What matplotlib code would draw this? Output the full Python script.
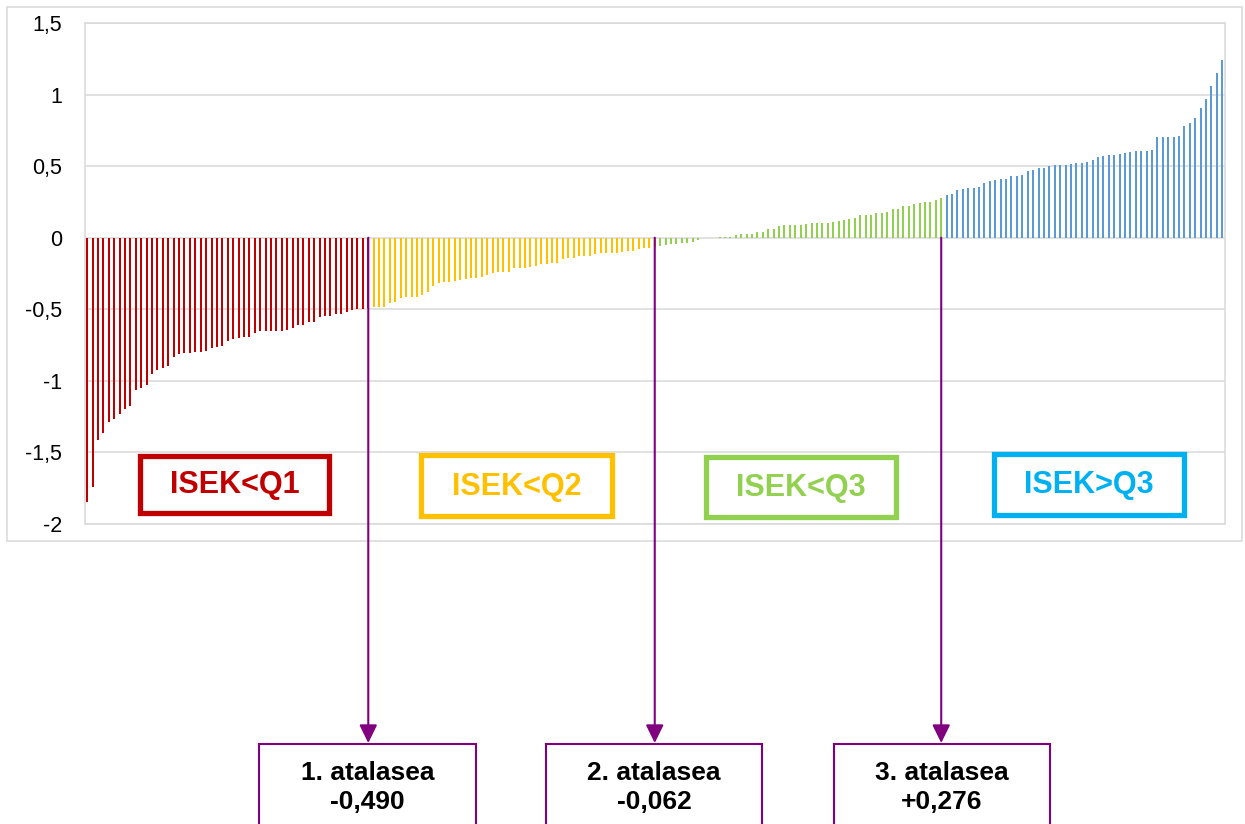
import matplotlib as mpl
mpl.use('Agg')
import matplotlib.pyplot as plt
from matplotlib.patches import Rectangle
import numpy as np

plt.rcParams['font.family'] = ['Liberation Sans', 'DejaVu Sans']

# sorted ISEK values, one list per quartile group
q1_vals = [-1.847, -1.741, -1.412, -1.363, -1.286, -1.265, -1.230, -1.195, -1.173, -1.061,
           -1.047, -1.026, -0.949, -0.921, -0.907, -0.893, -0.830, -0.809, -0.806, -0.802,
           -0.795, -0.795, -0.788, -0.767, -0.760, -0.753, -0.725, -0.706, -0.699, -0.692,
           -0.692, -0.664, -0.650, -0.650, -0.650, -0.650, -0.650, -0.643, -0.629, -0.608,
           -0.608, -0.587, -0.587, -0.552, -0.545, -0.545, -0.531, -0.531, -0.517, -0.503,
           -0.496, -0.496]
q2_vals = [-0.486, -0.486, -0.486, -0.458, -0.451, -0.423, -0.416, -0.416, -0.411, -0.402,
           -0.381, -0.339, -0.318, -0.311, -0.311, -0.304, -0.297, -0.290, -0.283, -0.283,
           -0.276, -0.262, -0.248, -0.241, -0.241, -0.241, -0.213, -0.213, -0.213, -0.206,
           -0.199, -0.185, -0.185, -0.178, -0.178, -0.150, -0.143, -0.143, -0.129, -0.129,
           -0.129, -0.115, -0.108, -0.108, -0.108, -0.108, -0.101, -0.094, -0.094, -0.079,
           -0.072, -0.072]
q3_vals = [-0.058, -0.054, -0.047, -0.047, -0.040, -0.037, -0.033, -0.019, -0.005, -0.005,
           -0.005, 0.007, 0.007, 0.007, 0.016, 0.028, 0.028, 0.028, 0.042, 0.042,
           0.063, 0.063, 0.084, 0.091, 0.091, 0.091, 0.091, 0.098, 0.105, 0.105,
           0.105, 0.105, 0.112, 0.119, 0.126, 0.133, 0.140, 0.161, 0.161, 0.161,
           0.175, 0.175, 0.182, 0.203, 0.203, 0.224, 0.224, 0.238, 0.245, 0.252,
           0.252, 0.266]
q4_vals = [0.298, 0.307, 0.333, 0.340, 0.349, 0.349, 0.356, 0.384, 0.393, 0.400,
           0.412, 0.412, 0.433, 0.433, 0.440, 0.465, 0.474, 0.486, 0.488, 0.500,
           0.509, 0.509, 0.509, 0.514, 0.521, 0.523, 0.530, 0.542, 0.565, 0.570,
           0.577, 0.581, 0.586, 0.593, 0.602, 0.605, 0.605, 0.607, 0.614, 0.702,
           0.702, 0.702, 0.702, 0.712, 0.781, 0.798, 0.837, 0.909, 0.972, 1.058,
           1.151, 1.242]
quartiles = [-0.490, -0.062, 0.276]

group_colors = ['#C00000', '#FFC000', '#92D050', '#5B9BD5']
box_labels = ['ISEK<Q1', 'ISEK<Q2', 'ISEK<Q3', 'ISEK>Q3']
box_colors = ['#C00000', '#FFC000', '#92D050', '#00B0F0']
cut_names = ['1. atalasea', '2. atalasea', '3. atalasea']
cut_texts = ['-0,490', '-0,062', '+0,276']
purple = '#800080'

# build one sorted series, quartile value sits between the groups
groups = [q1_vals, q2_vals, q3_vals, q4_vals]
values, colors, cut_pos = [], [], []
for i, g in enumerate(groups):
    values += g
    colors += [group_colors[i]] * len(g)
    if i < 3:
        cut_pos.append(len(values))
        values.append(quartiles[i])
        colors.append(group_colors[i])

W, H = 1245, 824
fig = plt.figure(figsize=(W / 100, H / 100), dpi=100)

def fx(p):
    return p / W

def fy(p):
    return 1 - p / H

# outer chart frame (behind everything)
fig.patches.append(Rectangle((fx(7), fy(541)), fx(1242) - fx(7), fy(7) - fy(541),
                             transform=fig.transFigure, fill=False, ec='#D9D9D9', lw=1.1, zorder=-1))

ax = fig.add_axes([fx(84.5), fy(524), fx(1225) - fx(84.5), fy(23) - fy(524)])
ax.patch.set_alpha(0)
x = np.arange(len(values))
ax.bar(x, values, width=0.37, color=colors, zorder=2)

ax.set_xlim(-0.5, len(values) - 0.5)
ax.set_ylim(-2, 1.5)
yt = np.arange(-2, 1.51, 0.5)
ax.set_yticks(yt)
ax.set_yticklabels([f'{v:g}'.replace('.', ',') for v in yt], fontsize=15.5)
ax.set_xticks([])
ax.tick_params(axis='y', length=0, pad=16)
ax.yaxis.grid(True, color='#D9D9D9', lw=1.1, zorder=0)
ax.set_axisbelow(True)
for s in ax.spines.values():
    s.set_color('#D9D9D9')
    s.set_linewidth(1.1)

# group label boxes
isek_boxes = [(140, 456, 329, 513), (421, 455, 612, 516), (706, 457, 896, 517), (994, 454, 1184, 515)]
for (l, t, r, b), lab, c in zip(isek_boxes, box_labels, box_colors):
    fig.patches.append(Rectangle((fx(l), fy(b)), fx(r) - fx(l), fy(t) - fy(b),
                                 transform=fig.transFigure, fill=True, fc='white', ec=c, lw=3.8, zorder=5))
    fig.text(fx((l + r) / 2), fy((t + b) / 2 + 1), lab, color=c, fontsize=22, fontweight='bold',
             ha='center', va='center', zorder=6)

# arrows down to the cut point boxes
cut_boxes = [(259, 476), (546, 762), (834, 1050)]
for p, (l, r), name, txt in zip(cut_pos, cut_boxes, cut_names, cut_texts):
    ax.annotate('', xy=(p, fy(743)), xycoords=('data', 'figure fraction'),
                xytext=(p, 0), textcoords='data', annotation_clip=False,
                arrowprops=dict(arrowstyle='-|>,head_length=0.55,head_width=0.27', color=purple,
                                lw=1.5, shrinkA=0, shrinkB=0, mutation_scale=20), zorder=4)
    fig.patches.append(Rectangle((fx(l), fy(830)), fx(r) - fx(l), fy(744) - fy(830),
                                 transform=fig.transFigure, fill=False, ec=purple, lw=1.5))
    fig.text(fx((l + r) / 2), fy(773), name, fontsize=19, fontweight='bold', ha='center', va='center')
    fig.text(fx((l + r) / 2), fy(802), txt, fontsize=19, fontweight='bold', ha='center', va='center')

plt.savefig('out.png', dpi=100)
plt.close()
